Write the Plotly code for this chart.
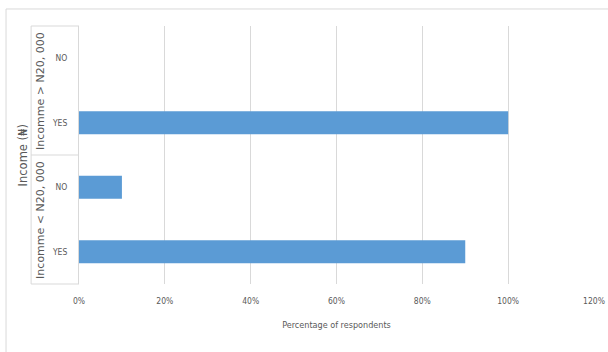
import plotly.graph_objects as go

groups = ["Incomme > N20, 000", "Incomme > N20, 000", "Incomme < N20, 000", "Incomme < N20, 000"]
answers = ["NO", "YES", "NO", "YES"]
values = [0, 100, 10, 90]
x_ticks = [0, 20, 40, 60, 80, 100, 120]
x_title = "Percentage of respondents"
y_title = "Income (₦)"

ids = [g + "|" + a for g, a in zip(groups, answers)]
x_ticktext = [f"{v}%" for v in x_ticks]

FONT = "DejaVu Sans Condensed, Liberation Sans, Arial, sans-serif"
WIDE = "DejaVu Sans, Liberation Sans, Arial, sans-serif"
GREY = "#d9d9d9"
TXT = "#595959"

fig = go.Figure(go.Bar(
    x=values, y=ids, orientation="h",
    marker=dict(color="#5b9bd5", line=dict(width=0)),
))

fig.update_layout(
    width=608, height=352,
    margin=dict(l=79, r=14, t=26, b=68, autoexpand=False),
    paper_bgcolor="white", plot_bgcolor="white",
    bargap=0.64, showlegend=False,
    font=dict(family=FONT, color=TXT, size=9),
    xaxis=dict(range=[0, 120], tickvals=x_ticks, ticktext=x_ticktext,
               showgrid=True, gridcolor=GREY, gridwidth=1, zeroline=False,
               showline=False, ticks="", ticklabelstandoff=10, automargin=False,
               ticklabeloverflow="allow",
               tickfont=dict(size=8.5, color=TXT, family=FONT),
               title=dict(text=x_title, font=dict(size=9, color=TXT, family=FONT), standoff=17)),
    yaxis=dict(type="category", categoryorder="array", categoryarray=ids,
               autorange="reversed", tickvals=ids, ticktext=answers,
               showgrid=False, showline=True, linecolor=GREY, linewidth=1,
               ticks="", ticklabelstandoff=9, automargin=False,
               tickfont=dict(size=8.5, color=TXT, family=FONT)),
)

# group box lines
box_left = -0.093
for yv in [0, 0.5, 1]:
    fig.add_shape(type="line", xref="paper", yref="paper", x0=box_left, x1=0, y0=yv, y1=yv,
                  line=dict(color=GREY, width=1))
fig.add_shape(type="line", xref="paper", yref="paper", x0=box_left, x1=box_left, y0=0, y1=1,
              line=dict(color=GREY, width=1))

# chart border
fig.add_shape(type="rect", xref="paper", yref="paper", x0=-0.1417, x1=1.2, y0=-0.5, y1=1.066,
              line=dict(color=GREY, width=1), layer="below")

# group labels
uniq = []
for g in groups:
    if g not in uniq:
        uniq.append(g)
for i, g in enumerate(uniq):
    fig.add_annotation(text=g, xref="paper", yref="paper", x=-0.075, y=0.75 - 0.5 * i,
                       textangle=-90, showarrow=False, xanchor="center", yanchor="middle",
                       font=dict(size=11, color=TXT, family=WIDE))

fig.add_annotation(text=y_title, xref="paper", yref="paper", x=-0.108, y=0.5,
                   textangle=-90, showarrow=False, xanchor="center", yanchor="middle",
                   font=dict(size=11.5, color=TXT, family=WIDE))

fig.write_html("out.html")
